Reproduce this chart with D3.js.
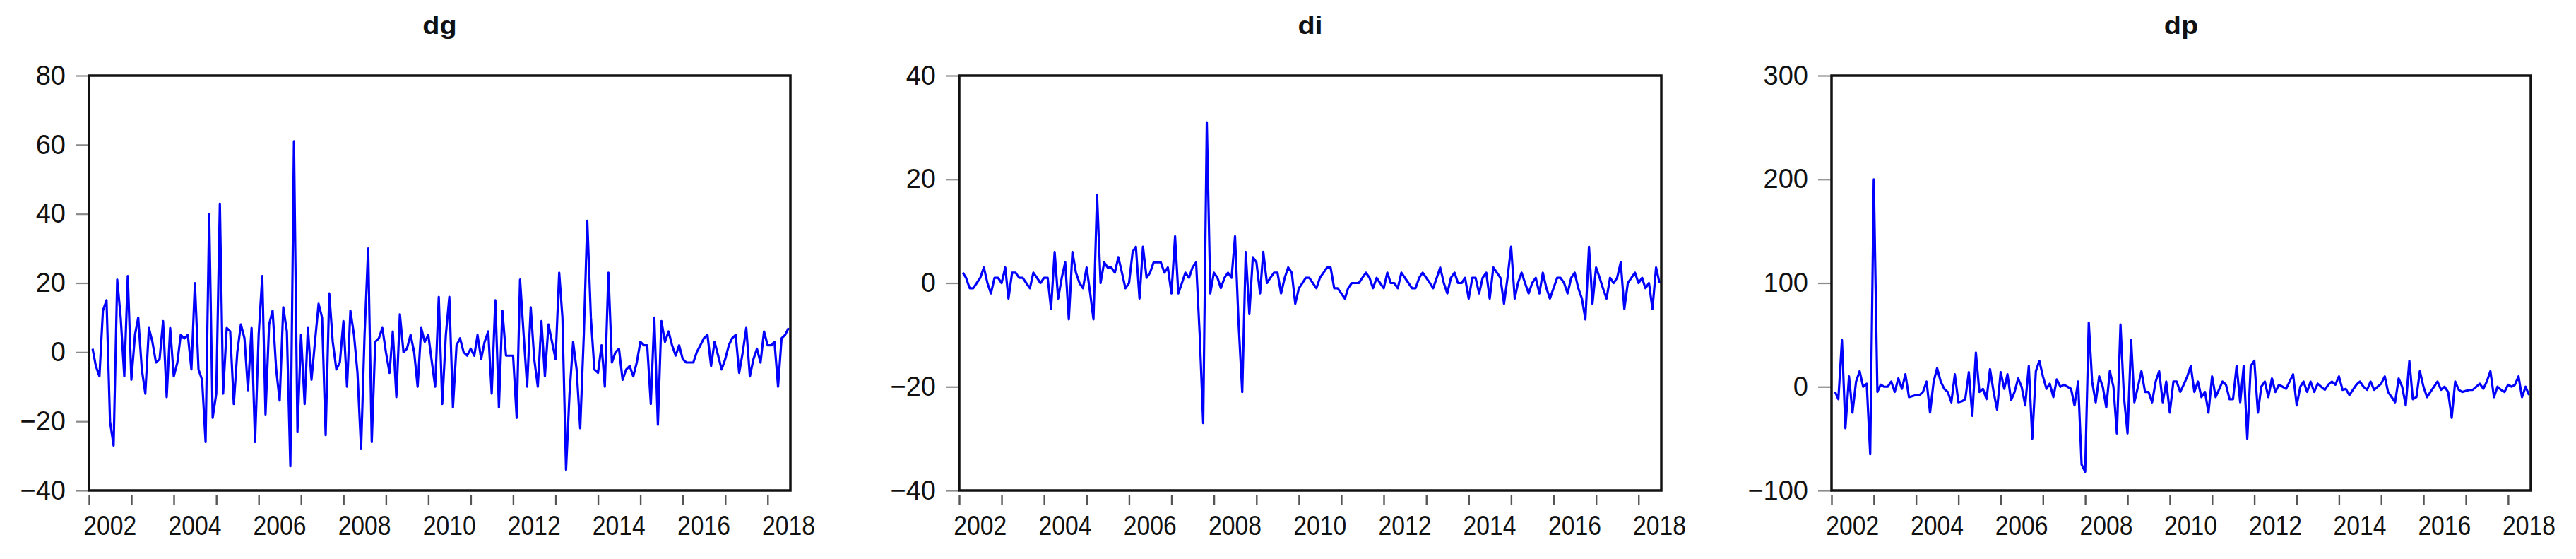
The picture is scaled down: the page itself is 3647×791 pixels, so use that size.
<!DOCTYPE html>
<html>
<head>
<meta charset="utf-8">
<script src="https://cdn.jsdelivr.net/npm/d3@7"></script>
<style>
  html, body { margin: 0; padding: 0; background: #fff; }
  svg { display: block; }
  text { font-family: "Liberation Sans", Arial, sans-serif; fill: #111; }
</style>
</head>
<body>
<svg id="chart" width="3647" height="791"></svg>
<script>
// ---- DATA : monthly observations 2002M02 .. 2018M07 ----
const titles = ["dg", "di", "dp"];
const yDomains = [[-40, 80], [-40, 40], [-100, 300]];
const yTicks = [[-40, -20, 0, 20, 40, 60, 80], [-40, -20, 0, 20, 40], [-100, 0, 100, 200, 300]];
const xLabelYears = [2002, 2004, 2006, 2008, 2010, 2012, 2014, 2016, 2018];
const months = d3.utcMonths(new Date(Date.UTC(2002, 1, 1)), new Date(Date.UTC(2018, 7, 1)));

const dg = [
  1,-4,-7,12,15,-20,-27,21,10,-7,
  22,-8,5,10,-5,-12,7,3,-3,-2,
  9,-13,7,-7,-3,5,4,5,-5,20,
  -5,-8,-26,40,-19,-12,43,-12,7,6,
  -15,0,8,4,-11,7,-26,5,22,-18,
  8,12,-5,-14,13,6,-33,61,-23,5,
  -15,7,-8,3,14,10,-24,17,3,-5,
  -3,9,-10,12,5,-6,-28,5,30,-26,
  3,4,7,0,-6,6,-13,11,0,1,
  5,0,-10,7,3,5,-3,-10,16,-15,
  5,16,-16,2,4,0,-1,1,-1,5,
  -2,3,6,-12,15,-16,12,-1,-1,-1,
  -19,21,5,-10,13,-2,-10,9,-7,8,
  3,-2,23,10,-34,-12,3,-5,-22,5,
  38,10,-5,-6,2,-10,23,-3,0,1,
  -8,-5,-4,-7,-3,3,2,2,-15,10,
  -21,9,3,6,2,-1,2,-2,-3,-3,
  -3,0,2,4,5,-4,3,-1,-5,-2,
  2,4,5,-6,0,7,-7,-2,1,-3,
  6,2,2,3,-10,4,5,7
];

const di = [
  2,1,-1,-1,0,1,3,0,-2,1,
  1,0,3,-3,2,2,1,1,0,-1,
  2,1,0,1,1,-5,6,-3,1,4,
  -7,6,2,0,-1,3,-2,-7,17,0,
  4,3,3,2,5,2,-1,0,6,7,
  -3,7,1,2,4,4,4,2,3,-2,
  9,-2,0,2,1,3,4,-10,-27,31,
  -2,2,1,-1,1,2,1,9,-8,-21,
  6,-6,5,4,-2,6,0,1,2,2,
  -2,1,3,2,-4,-1,0,1,1,0,
  -1,1,2,3,3,-1,-1,-2,-3,-1,
  0,0,0,1,2,1,-1,1,0,-1,
  2,0,0,-1,2,1,0,-1,-1,1,
  2,1,0,-1,1,3,0,-2,1,2,
  0,0,1,-3,1,1,-2,1,2,-3,
  3,2,1,-4,1,7,-3,0,2,0,
  -2,0,1,-2,2,-1,-3,-1,1,1,
  0,-2,1,2,-1,-3,-7,7,-4,3,
  1,-1,-3,1,0,1,4,-5,0,1,
  2,0,1,-1,0,-5,3,0
];

const dp = [
  -5,-12,45,-40,10,-25,5,15,0,3,
  -65,200,-5,2,0,0,5,-5,8,-2,
  12,-10,-9,-8,-8,-5,5,-25,5,18,
  5,-2,-5,-15,12,-15,-14,-12,14,-28,
  33,-5,-2,-12,17,-5,-22,14,-2,12,
  -13,-5,8,0,-18,20,-50,15,25,10,
  -2,3,-10,7,0,2,0,-2,-18,5,
  -75,-82,62,5,-15,10,0,-20,15,0,
  -45,60,-10,-45,45,-15,0,15,-5,-5,
  -15,5,15,-15,5,-25,5,5,-5,2,
  10,20,-5,5,-10,-5,-25,10,-10,-3,
  5,2,-12,-12,20,-15,20,-50,20,25,
  -25,0,5,-10,8,-5,2,0,-2,5,
  12,-18,0,5,-5,5,-5,3,0,-3,
  2,5,2,10,-3,-2,-8,-3,2,5,
  0,-3,5,-3,0,3,10,-5,-10,-15,
  8,0,-18,25,-12,-10,15,0,-10,-5,
  0,5,-3,0,-5,-30,5,-3,-5,-4,
  -3,-3,0,3,-2,5,15,-10,0,-3,
  -5,2,0,2,10,-10,0,-8
];

const seriesList = [dg, di, dp];

// ---- LAYOUT ----
const panels = [
  { left: 126, right: 1119 },
  { left: 1358, right: 2352 },
  { left: 2593, right: 3583 }
];
const plotTop = 107, plotBottom = 694;
const start = new Date(Date.UTC(2002, 0, 1));
const end = new Date(Date.UTC(2018, 6, 16));

const svg = d3.select("#chart");
svg.append("rect").attr("width", 3647).attr("height", 791).attr("fill", "#fff");

panels.forEach((p, i) => {
  const x = d3.scaleUtc().domain([start, end]).range([p.left, p.right]);
  const y = d3.scaleLinear().domain(yDomains[i]).range([plotBottom, plotTop]);
  const g = svg.append("g");

  g.append("text")
    .attr("transform", `translate(${(p.left + p.right) / 2},48) scale(1.1,1)`)
    .attr("text-anchor", "middle")
    .style("font-size", "36px").style("font-weight", "bold")
    .text(titles[i]);

  const ya = g.append("g").attr("transform", `translate(${p.left},0)`)
    .call(d3.axisLeft(y).tickValues(yTicks[i]).tickSize(19).tickPadding(14).tickFormat(d3.format("d")));
  ya.select(".domain").remove();
  ya.selectAll(".tick line").attr("stroke", "#8a8a8a").attr("stroke-width", 2.2);
  ya.selectAll(".tick text").style("font-size", "38px").style("font-family", "Liberation Sans, Arial, sans-serif").attr("fill", "#111");

  const years = d3.utcYear.range(start, end);
  const xa = g.append("g").attr("transform", `translate(0,${plotBottom + 6})`)
    .call(d3.axisBottom(x).tickValues(years).tickSize(15).tickFormat(""));
  xa.select(".domain").remove();
  xa.selectAll(".tick line").attr("stroke", "#555").attr("stroke-width", 2.4);

  g.selectAll(".xl").data(xLabelYears).join("text")
    .attr("class", "xl")
    .attr("x", d => x(new Date(Date.UTC(d, 6, 1))))
    .attr("y", 757)
    .attr("text-anchor", "middle")
    .attr("textLength", 75).attr("lengthAdjust", "spacingAndGlyphs")
    .style("font-size", "38px")
    .text(d => d);

  const pts = seriesList[i].map((v, k) => ({ date: months[k], v }));
  const line = d3.line().x(d => x(d.date)).y(d => y(d.v));
  g.append("path").datum(pts)
    .attr("d", line)
    .attr("fill", "none")
    .attr("stroke", "#0000ff")
    .attr("stroke-width", 3.2)
    .attr("stroke-linejoin", "round");

  g.append("rect")
    .attr("x", p.left).attr("y", plotTop)
    .attr("width", p.right - p.left).attr("height", plotBottom - plotTop)
    .attr("fill", "none").attr("stroke", "#111").attr("stroke-width", 3.5);
});
</script>
</body>
</html>
